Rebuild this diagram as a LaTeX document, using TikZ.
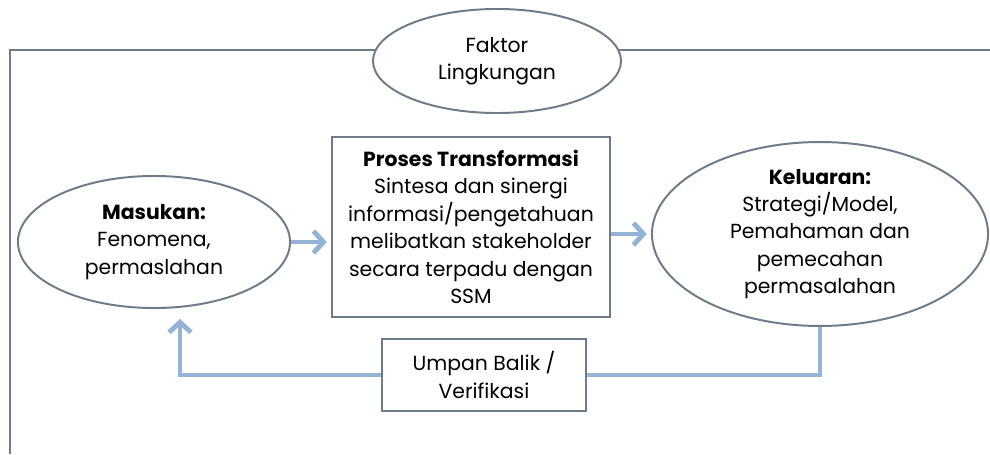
\documentclass[tikz,border=0pt]{standalone}
\usepackage{fontspec}
\setmainfont{Poppins}
\usetikzlibrary{shapes.geometric, arrows.meta, positioning, calc}
\definecolor{edgegray}{HTML}{6E7C8A}
\definecolor{flowblue}{HTML}{95B3D7}

\begin{document}
\begin{tikzpicture}[x=0.025cm, y=-0.025cm,
		every node/.style={font=\fontsize{14.5}{19.5}\selectfont, align=center},
		oval/.style={ellipse, draw=edgegray, line width=1.4pt, fill=white, inner sep=0pt},
		box/.style={rectangle, draw=edgegray, line width=1.4pt, fill=white, inner sep=0pt},
		frame/.style={draw=edgegray, line width=1.4pt},
		flowline/.style={draw=flowblue, line width=3.5pt},
		flow/.style={flowline, -{Straight Barb[length=2.5mm, width=5.5mm]}, shorten >=3pt}]
		\useasboundingbox (0,0) rectangle (990,454);
		
		% Frame
		\coordinate (bl) at (10,454);
		\coordinate (tl) at (10,50);
		\coordinate (tr) at (990,50);
		\draw[frame] (bl) -- (tl) -- (tr);
		
		\node[oval, minimum width=6.2cm, minimum height=2.6cm] (lingkungan) at (497,61) {Faktor\\Lingkungan};
		\node[oval, minimum width=6.8cm, minimum height=3.3cm] (masukan) at (154,242) {\textbf{Masukan:}\\Fenomena,\\permaslahan};
		\node[box, minimum width=6.95cm, minimum height=4.5cm] (proses) at (471,227) {\textbf{Proses Transformasi}\\Sintesa dan sinergi\\informasi/pengetahuan\\melibatkan stakeholder\\secara terpadu dengan\\SSM};
		\node[oval, minimum width=8.4cm, minimum height=4.55cm] (keluaran) at (820,234) {\textbf{Keluaran:}\\Strategi/Model,\\Pemahaman dan\\pemecahan\\permasalahan};
		\node[box, minimum width=5.1cm, minimum height=1.78cm] (umpan) at (484,375) {Umpan Balik /\\Verifikasi};
		
		% Flow
		\draw[flow] (masukan.east) -- (masukan.east -| proses.west);
		\draw[flow] (proses.east |- keluaran.west) -- (keluaran.west);
		
		% Feedback
		\draw[flowline] (keluaran.south) |- (umpan.east);
		\draw[flow, shorten >=0.25cm] (umpan.west) -| ([xshift=0.65cm]masukan.south);
	\end{tikzpicture}
\end{document}
